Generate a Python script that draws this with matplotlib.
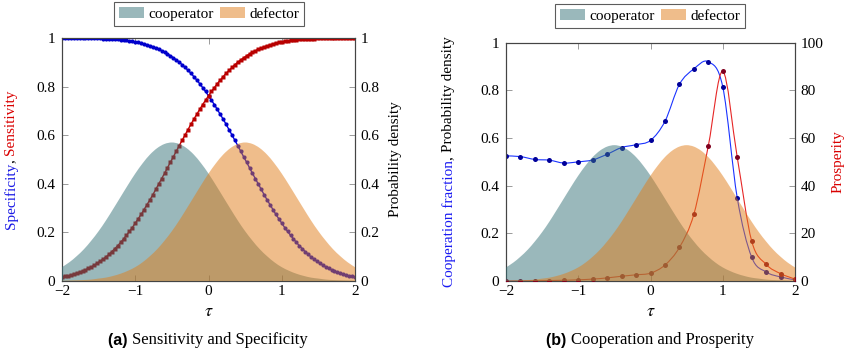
import numpy as np
import matplotlib
matplotlib.use('Agg')
import matplotlib.pyplot as plt
from matplotlib.path import Path
from matplotlib.patches import PathPatch, Patch

plt.rcParams['font.family'] = ['Liberation Serif', 'DejaVu Serif']
plt.rcParams['mathtext.fontset'] = 'stix'

# ---------------- data ----------------
x_ticks = [-2, -1, 0, 1, 2]
x_ticklabels = ['\u22122', '\u22121', '0', '1', '2']
y_ticks = [0, 0.2, 0.4, 0.6, 0.8, 1.0]
y_ticklabels = ['0', '0.2', '0.4', '0.6', '0.8', '1']
p_ticks = [0, 20, 40, 60, 80, 100]
p_ticklabels = ['0', '20', '40', '60', '80', '100']

# panel (a): sensitivity / specificity on a fine tau grid (-2..2, 101 points)
sensitivity = [0.016, 0.019, 0.021, 0.024, 0.028, 0.032, 0.036, 0.041, 0.046, 0.052,
               0.058, 0.065, 0.073, 0.081, 0.090, 0.099, 0.110, 0.121, 0.133, 0.145,
               0.159, 0.173, 0.188, 0.204, 0.220, 0.238, 0.256, 0.274, 0.294, 0.314,
               0.334, 0.355, 0.377, 0.399, 0.421, 0.443, 0.466, 0.489, 0.511, 0.534,
               0.557, 0.579, 0.601, 0.623, 0.645, 0.666, 0.686, 0.706, 0.726, 0.744,
               0.762, 0.780, 0.796, 0.812, 0.827, 0.841, 0.855, 0.867, 0.879, 0.890,
               0.901, 0.910, 0.919, 0.927, 0.935, 0.942, 0.948, 0.954, 0.959, 0.964,
               0.968, 0.972, 0.976, 0.979, 0.982, 0.984, 0.986, 0.988, 0.990, 0.991,
               0.992, 0.994, 0.995, 0.995, 0.996, 0.997, 0.997, 0.998, 0.998, 0.998,
               0.999, 0.999, 0.999, 0.999, 0.999, 1.000, 1.000, 1.000, 1.000, 1.000, 1.000]
specificity = [1.000, 1.000, 1.000, 1.000, 1.000, 1.000, 0.999, 0.999, 0.999, 0.999,
               0.999, 0.998, 0.998, 0.998, 0.997, 0.997, 0.996, 0.995, 0.995, 0.994,
               0.992, 0.991, 0.990, 0.988, 0.986, 0.984, 0.982, 0.979, 0.976, 0.972,
               0.968, 0.964, 0.959, 0.954, 0.948, 0.942, 0.935, 0.927, 0.919, 0.910,
               0.901, 0.890, 0.879, 0.867, 0.855, 0.841, 0.827, 0.812, 0.796, 0.780,
               0.762, 0.744, 0.726, 0.706, 0.686, 0.666, 0.645, 0.623, 0.601, 0.579,
               0.557, 0.534, 0.511, 0.489, 0.466, 0.443, 0.421, 0.399, 0.377, 0.355,
               0.334, 0.314, 0.294, 0.274, 0.256, 0.238, 0.220, 0.204, 0.188, 0.173,
               0.159, 0.145, 0.133, 0.121, 0.110, 0.099, 0.090, 0.081, 0.073, 0.065,
               0.058, 0.052, 0.046, 0.041, 0.036, 0.032, 0.028, 0.024, 0.021, 0.019, 0.016]

# probability densities on tau grid -2..2 step 0.1 (41 points)
cooperator_density = [0.057, 0.077, 0.102, 0.131, 0.166, 0.205, 0.249, 0.297, 0.346, 0.395,
                      0.442, 0.484, 0.520, 0.547, 0.564, 0.570, 0.564, 0.547, 0.520, 0.484,
                      0.442, 0.395, 0.346, 0.297, 0.249, 0.205, 0.166, 0.131, 0.102, 0.077,
                      0.057, 0.042, 0.030, 0.021, 0.014, 0.010, 0.006, 0.004, 0.003, 0.002, 0.001]
defector_density = [0.001, 0.002, 0.003, 0.004, 0.006, 0.010, 0.014, 0.021, 0.030, 0.042,
                    0.057, 0.077, 0.102, 0.131, 0.166, 0.205, 0.249, 0.297, 0.346, 0.395,
                    0.442, 0.484, 0.520, 0.547, 0.564, 0.570, 0.564, 0.547, 0.520, 0.484,
                    0.442, 0.395, 0.346, 0.297, 0.249, 0.205, 0.166, 0.131, 0.102, 0.077, 0.057]

# panel (b): tau grid -2..2 step 0.2 (21 points)
cooperation_fraction = [0.525, 0.522, 0.510, 0.507, 0.495, 0.500, 0.508, 0.532, 0.560, 0.572,
                        0.590, 0.670, 0.825, 0.890, 0.920, 0.815, 0.350, 0.100, 0.038, 0.017, 0.005]
prosperity = [0.0, 0.0, 0.1, 0.2, 0.3, 0.5, 0.8, 1.3, 2.0, 2.6,
              3.3, 6.7, 14.1, 28.0, 56.7, 88.0, 52.0, 16.8, 7.0, 3.1, 0.8]

tau_fine = np.linspace(-2, 2, len(sensitivity))
tau_dens = np.linspace(-2, 2, len(cooperator_density))
tau_b = np.linspace(-2, 2, len(cooperation_fraction))

# ---------------- style ----------------
COOP = (55/255, 115/255, 121/255)
DEF = (225/255, 125/255, 25/255)
FILL_ALPHA = 0.5
SPINE = '#444444'
TICKC = '#8a8a8a'
FS = 11


def smooth_verts(x, y, t=1/6):
    pts = np.column_stack([x, y]).astype(float)
    n = len(pts)
    verts = [pts[0]]
    codes = [Path.MOVETO]
    for i in range(n - 1):
        p0 = pts[i - 1] if i > 0 else pts[i]
        p1 = pts[i]
        p2 = pts[i + 1]
        p3 = pts[i + 2] if i + 2 < n else pts[i + 1]
        verts += [p1 + (p2 - p0) * t, p2 - (p3 - p1) * t, p2]
        codes += [Path.CURVE4] * 3
    return verts, codes


def smooth_line(ax, x, y, **kw):
    v, c = smooth_verts(x, y)
    ax.add_patch(PathPatch(Path(v, c), fill=False, **kw))


def smooth_fill(ax, x, y, color, transform=None, zorder=5):
    v, c = smooth_verts(x, y)
    v = v + [(x[-1], 0), (x[0], 0), (x[0], 0)]
    c = c + [Path.LINETO, Path.LINETO, Path.CLOSEPOLY]
    kw = {}
    if transform is not None:
        kw['transform'] = transform
    ax.add_patch(PathPatch(Path(v, c), facecolor=color, edgecolor='none',
                           alpha=FILL_ALPHA, zorder=zorder, **kw))


def style_axes(ax, ax2):
    for a in (ax, ax2):
        for s in a.spines.values():
            s.set_color(SPINE)
            s.set_linewidth(0.8)
    ax.set_xlim(-2, 2)
    ax.set_xticks(x_ticks)
    ax.set_xticklabels(x_ticklabels)
    ax.tick_params(axis='both', direction='in', length=4, width=0.6, color=TICKC,
                   labelsize=FS, top=True, right=False, pad=3)
    ax.tick_params(axis='y', pad=5)
    ax2.tick_params(axis='y', direction='in', length=4, width=0.6, color=TICKC,
                    labelsize=FS, right=True, pad=4)


fig = plt.figure(figsize=(8.5, 3.52), dpi=100)
H = 352.0
W = 850.0

# ---------------- panel (a) ----------------
axa = fig.add_axes([62/W, 1 - 281/H, (355 - 62)/W, (281 - 38)/H])
axa2 = axa.twinx()
axa.set_ylim(0, 1)
axa2.set_ylim(0, 1)
axa.set_yticks(y_ticks)
axa.set_yticklabels(y_ticklabels)
axa2.set_yticks(y_ticks)
axa2.set_yticklabels(y_ticklabels)
style_axes(axa, axa2)

axa.plot(tau_fine, specificity, color=(0, 0, 0.9), lw=1.0, marker='o', ms=3.0,
         mec='none', mfc=(0, 0, 0.8), zorder=3)
axa.plot(tau_fine, sensitivity, color=(0.8, 0, 0), lw=1.0, marker='s', ms=2.7,
         mec='none', mfc=(0.72, 0, 0), zorder=3)
smooth_fill(axa2, tau_dens, cooperator_density, COOP)
smooth_fill(axa2, tau_dens, defector_density, DEF)

# ---------------- panel (b) ----------------
axb = fig.add_axes([506/W, 1 - 281/H, (795 - 506)/W, (281 - 42.7)/H])
axb2 = axb.twinx()
axb.set_ylim(0, 1)
axb2.set_ylim(0, 100)
axb.set_yticks(y_ticks)
axb.set_yticklabels(y_ticklabels)
axb2.set_yticks(p_ticks)
axb2.set_yticklabels(p_ticklabels)
style_axes(axb, axb2)

smooth_line(axb, tau_b, cooperation_fraction, edgecolor=(0.1, 0.2, 1.0), lw=0.8, zorder=3)
axb.plot(tau_b, cooperation_fraction, ls='none', marker='o', ms=3.6, mec='none',
         mfc=(0, 0, 0.6), zorder=4)
smooth_line(axb2, tau_b, prosperity, edgecolor=(0.9, 0.15, 0.15), lw=0.8, zorder=3)
axb2.plot(tau_b, prosperity, ls='none', marker='o', ms=3.6, mec='none',
          mfc=(0.5, 0, 0.12), zorder=4)
smooth_fill(axb2, tau_dens, cooperator_density, COOP, transform=axb.transData)
smooth_fill(axb2, tau_dens, defector_density, DEF, transform=axb.transData)

# ---------------- legends ----------------
handles = [Patch(facecolor=COOP, alpha=FILL_ALPHA, edgecolor='none', label='cooperator'),
           Patch(facecolor=DEF, alpha=FILL_ALPHA, edgecolor='none', label='defector')]
for xc, yc in [(209/W, 1 - 14/H), (650/W, 1 - 16/H)]:
    leg = fig.legend(handles=handles, loc='center', bbox_to_anchor=(xc, yc), ncol=2,
                     frameon=True, fancybox=False, fontsize=FS, handlelength=1.65,
                     handleheight=0.75, handletextpad=0.3, columnspacing=0.4,
                     borderpad=0.3, borderaxespad=0)
    leg.get_frame().set_edgecolor('#333333')
    leg.get_frame().set_linewidth(0.8)

# ---------------- axis labels ----------------
fig.text((62 + 355)/2/W, 1 - 312/H, r'$\tau$', ha='center', va='center', fontsize=13)
fig.text((506 + 795)/2/W, 1 - 312/H, r'$\tau$', ha='center', va='center', fontsize=13)
fig.text(395/W, 1 - 159.5/H, 'Probability density', rotation=90, ha='center',
         va='center', fontsize=FS)
fig.text(838/W, 1 - 162/H, 'Prosperity', rotation=90, ha='center', va='center',
         fontsize=FS, color=(0.85, 0, 0))

fig.canvas.draw()
renderer = fig.canvas.get_renderer()


def color_label(pieces, xc, yc):
    texts = [fig.text(0, 0, s, color=c, rotation=90, fontsize=FS, ha='center',
                      va='center') for s, c in pieces]
    hs = [t.get_window_extent(renderer).height for t in texts]
    y = yc * fig.bbox.height - sum(hs) / 2
    for t, h in zip(texts, hs):
        t.set_position((xc, (y + h / 2) / fig.bbox.height))
        y += h


color_label([('Specificity', (0.1, 0.1, 0.9)), (', ', 'black'), ('Sensitivity', (0.85, 0, 0))],
            11/W, 1 - 159.5/H)
color_label([('Cooperation fraction', (0.1, 0.1, 0.95)), (', ', 'black'),
             ('Probability density', 'black')], 449/W, 1 - 162/H)

# ---------------- captions ----------------
for xs, lab, txt in [(132, '(a)', 'Sensitivity and Specificity'),
                     (571, '(b)', 'Cooperation and Prosperity')]:
    fig.text(xs/W, 1 - 340/H, lab + ' ', ha='right', va='center', fontsize=11.5,
             fontweight='bold', family=['Liberation Sans', 'DejaVu Sans'])
    fig.text(xs/W, 1 - 340/H, txt, ha='left', va='center', fontsize=12)

fig.savefig('out.png', dpi=100)
